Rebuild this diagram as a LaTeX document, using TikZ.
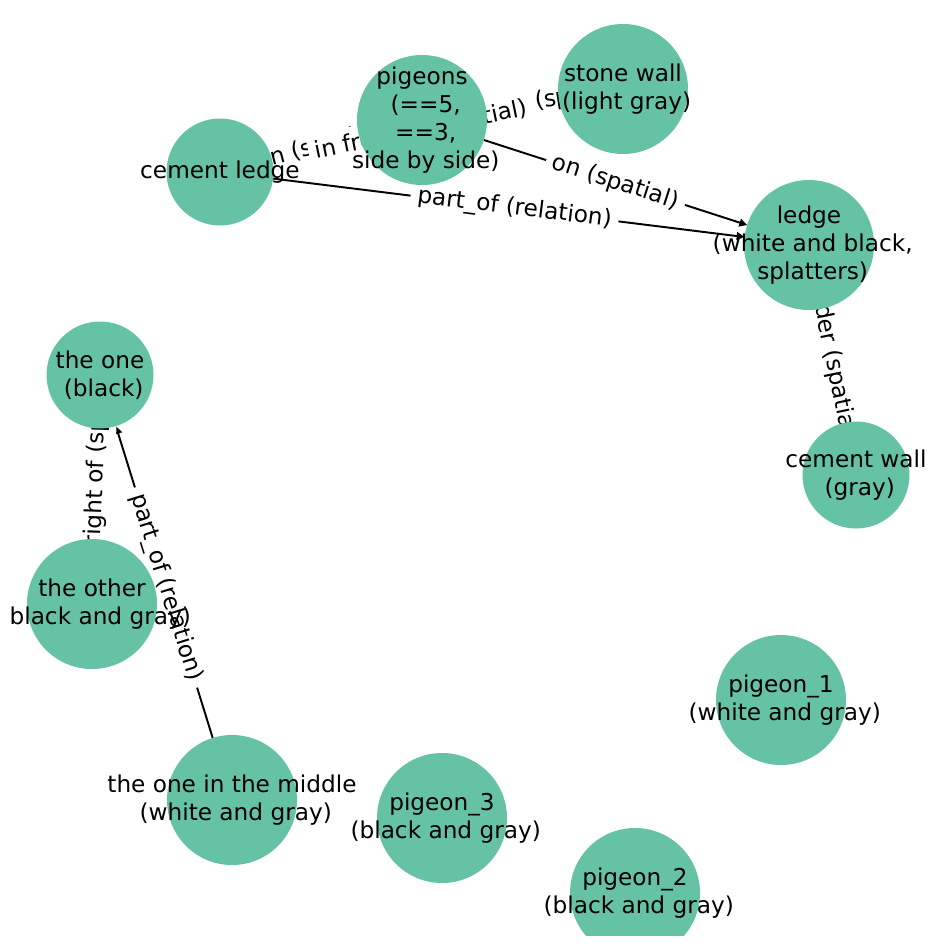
\documentclass[tikz,border=0pt]{standalone}
\usepackage{fontspec}
\setmainfont{DejaVu Sans}
\usetikzlibrary{arrows.meta}

\definecolor{nodegreen}{HTML}{66C2A5}
\newcommand{\graphfont}{\fontsize{11.6}{13.9}\selectfont}
\newcommand{\lsp}{\hspace*{0.318em}}

\pgfdeclarelayer{canvas}
\pgfdeclarelayer{edges}
\pgfdeclarelayer{edgelabels}
\pgfsetlayers{canvas,edges,edgelabels,main}

\tikzset{
  vertex/.style={circle, fill=nodegreen, inner sep=0pt, outer sep=0pt},
  big/.style={minimum size=65pt},
  small/.style={minimum size=53.5pt},
  vtext/.style={align=center, inner sep=0pt, font=\graphfont},
  rel/.style={line width=0.97pt, -{Triangle[length=3.9pt,width=3.9pt]}},
  elabel/.style={sloped, fill=white, rounded corners=3pt, inner sep=3.5pt, font=\graphfont}
}

\begin{document}
\begin{tikzpicture}[x=0.5pt, y=-0.5pt]
    \useasboundingbox (0,0) rectangle (948,948);
    \begin{pgfonlayer}{canvas}
        \fill[white] (0,0) rectangle (948,948);
    \end{pgfonlayer}
    \clip (10,10) rectangle (938,935);

    % nodes
    \node (pigeons) [vertex, big] at (422,120) {};
    \node (stonewall) [vertex, big] at (623,89) {};
    \node (cementledge) [vertex, small] at (220,172) {};
    \node (ledge) [vertex, big] at (809,245) {};
    \node (theone) [vertex, small] at (100,375) {};
    \node (cementwall) [vertex, small] at (856,475) {};
    \node (theother) [vertex, big] at (92,604) {};
    \node (pigeon1) [vertex, big] at (781,700) {};
    \node (middle) [vertex, big] at (232,800) {};
    \node (pigeon3) [vertex, big] at (442,818) {};
    \node (pigeon2) [vertex, big] at (635,893) {};

    \node (pigeons-t) [vtext] at (pigeons) {pigeons\\\lsp(==5,\\\lsp==3,\\\lsp side by side)};
    \node (stonewall-t) [vtext] at (stonewall) {stone wall\\\lsp(light gray)};
    \node (cementledge-t) [vtext] at (cementledge) {cement ledge};
    \node (ledge-t) [vtext] at (ledge) {ledge\\\lsp(white and black,\\\lsp splatters)};
    \node (theone-t) [vtext] at (theone) {the one\\\lsp(black)};
    \node (cementwall-t) [vtext] at (cementwall) {cement wall\\\lsp(gray)};
    \node (theother-t) [vtext] at (theother) {the other\\\lsp(black and gray)};
    \node (pigeon1-t) [vtext] at (pigeon1) {pigeon\_1\\\lsp(white and gray)};
    \node (middle-t) [vtext] at (middle) {the one in the middle\\\lsp(white and gray)};
    \node (pigeon3-t) [vtext] at (pigeon3) {pigeon\_3\\\lsp(black and gray)};
    \node (pigeon2-t) [vtext] at (pigeon2) {pigeon\_2\\\lsp(black and gray)};

    % connectors
    \begin{pgfonlayer}{edges}
        \draw[rel] (pigeons) -- (cementledge);
        \draw[rel] (pigeons) -- (stonewall);
        \draw[rel] (cementledge) -- (stonewall);
        \draw[rel] (pigeons) -- (ledge);
        \draw[rel] (cementledge) -- (ledge);
        \draw[rel] (ledge) -- (cementwall);
        \draw[rel] (theone) -- (theother);
        \draw[rel] (middle) -- (theone);
    \end{pgfonlayer}

    % connector labels
    \begin{pgfonlayer}{edgelabels}
        \path (pigeons.center) -- node[elabel] (l-on1) {on (spatial)} (cementledge.center);
        \path (pigeons.center) -- node[elabel] (l-front1) {in front of (spatial)} (stonewall.center);
        \path (cementledge.center) -- node[elabel] (l-front2) {in front of (spatial)} (stonewall.center);
        \path (pigeons.center) -- node[elabel] (l-on2) {on (spatial)} (ledge.center);
        \path (cementledge.center) -- node[elabel] (l-part1) {part\_of (relation)} (ledge.center);
        \path (ledge.center) -- node[elabel] (l-under) {under (spatial)} (cementwall.center);
        \path (theone.center) -- node[elabel] (l-right) {to the right of (spatial)} (theother.center);
        \path (middle.center) -- node[elabel] (l-part2) {part\_of (relation)} (theone.center);
    \end{pgfonlayer}
\end{tikzpicture}
\end{document}
